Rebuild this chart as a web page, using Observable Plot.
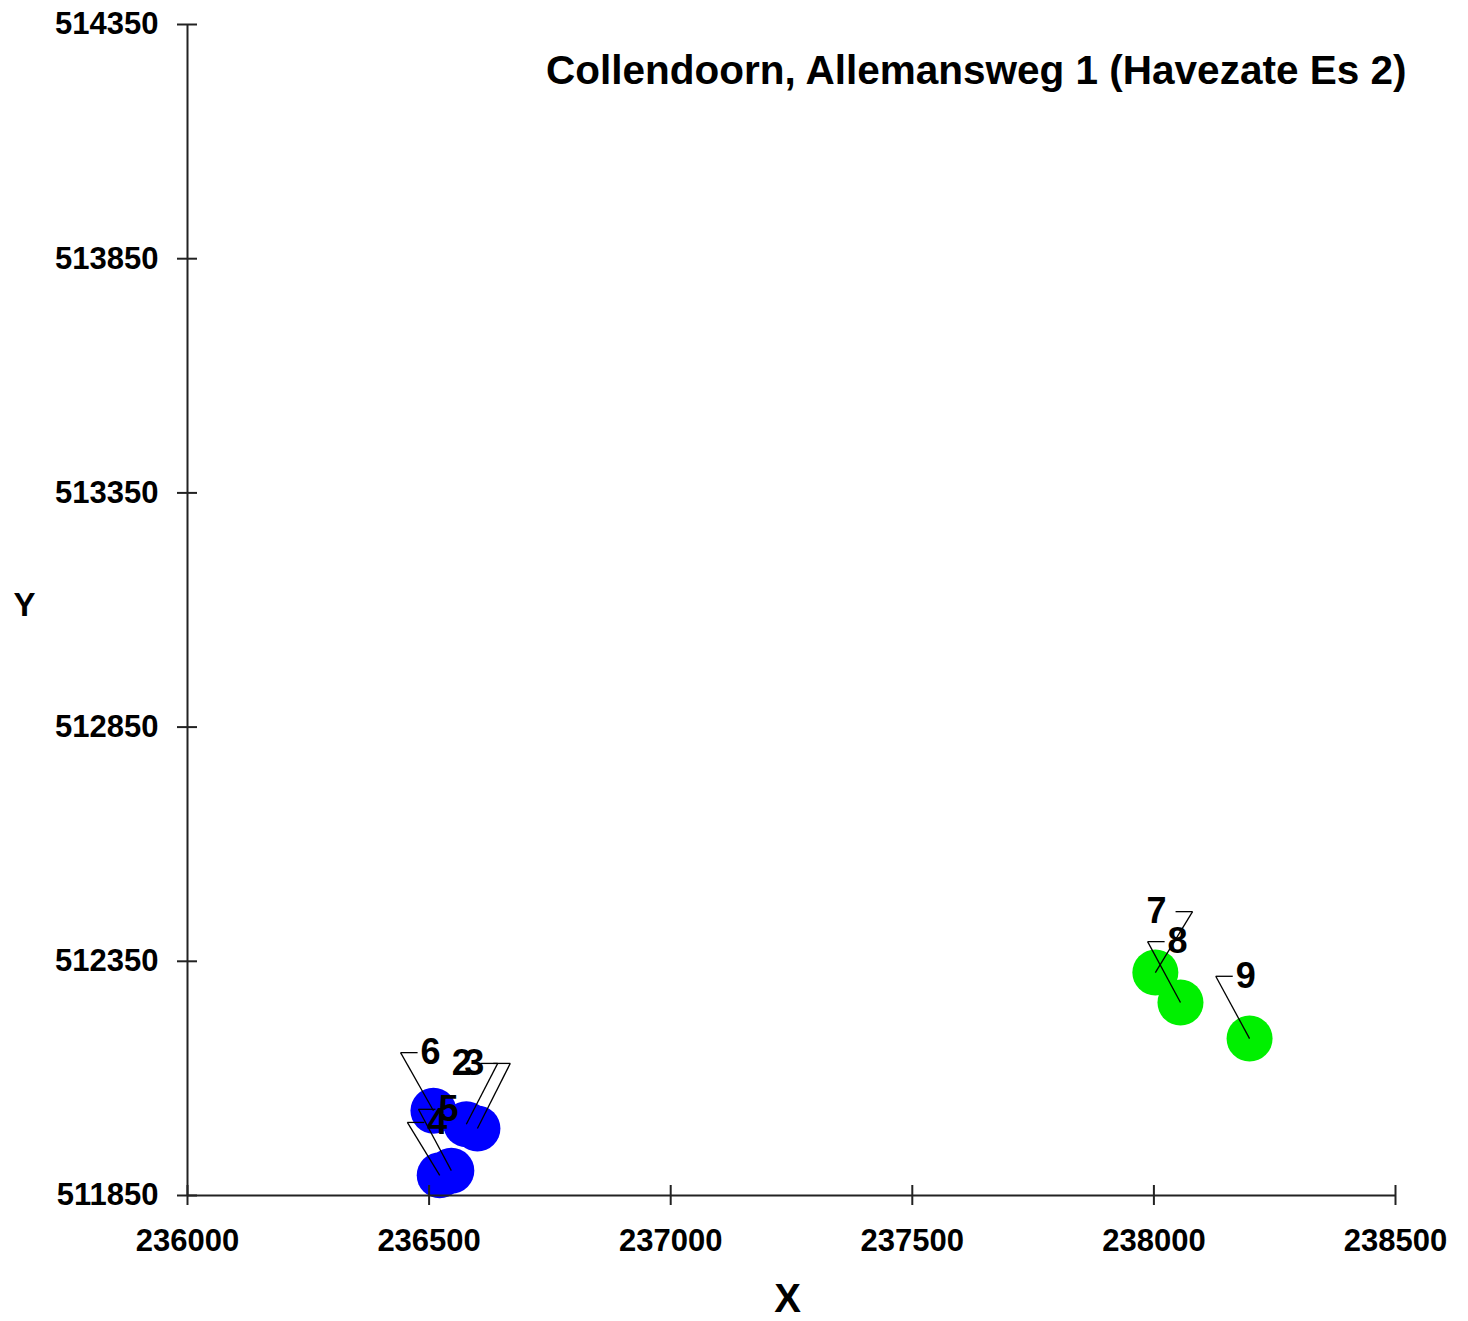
<!DOCTYPE html>
<html><head><meta charset="utf-8">
<script src="https://cdn.jsdelivr.net/npm/d3@7"></script>
<script src="https://cdn.jsdelivr.net/npm/@observablehq/plot@0.6"></script>
<style>body{margin:0;background:#fff;} svg{display:block;}</style>
</head><body><div id="chart"></div>
<script>
const title = "Collendoorn, Allemansweg 1 (Havezate Es 2)";
const xTicks = [236000, 236500, 237000, 237500, 238000, 238500];
const yTicks = [511850, 512350, 512850, 513350, 513850, 514350];
const pointIds = ["2", "3", "4", "5", "6", "7", "8", "9"];
const pointGroup = ["west", "west", "west", "west", "west", "east", "east", "east"];
const pointX = [236577, 236600, 236522, 236546, 236509, 238003, 238055, 238198];
const pointY = [512002, 511993, 511893, 511903, 512031, 512326, 512262, 512185];
const labelX = [236642, 236668, 236455, 236478, 236441, 238080, 237987, 238128];
const labelY = [512132, 512132, 512006, 512034, 512155, 512456, 512392, 512318];
const labelSide = [-1, -1, 1, 1, 1, -1, 1, 1];

const points = pointIds.map((id, i) => ({
  id, group: pointGroup[i], x: pointX[i], y: pointY[i],
  lx: labelX[i], ly: labelY[i], side: labelSide[i]
}));

const W = 1468, H = 1321, ml = 187, mr = 73, mt = 24, mb = 126;
const xDom = [236000, 238500], yDom = [511850, 514350];
const pxPerUnit = (W - ml - mr) / (xDom[1] - xDom[0]);
const barLen = 17 / pxPerUnit;
const font = "'Liberation Sans', Arial, sans-serif";
const ax = "#222";

const plot = Plot.plot({
  width: W, height: H,
  marginLeft: ml, marginRight: mr, marginTop: mt, marginBottom: mb,
  style: {fontFamily: font, fontWeight: "bold", fontSize: "31px", color: "#000", background: "#fff"},
  x: {domain: xDom},
  y: {domain: yDom},
  color: {type: "categorical", domain: ["west", "east"], range: ["#0000ff", "#00f000"]},
  marks: [
    Plot.dot(points, {x: "x", y: "y", r: 23, fill: "group", stroke: null}),
    Plot.ruleY([yDom[0]], {stroke: ax, strokeWidth: 2}),
    Plot.ruleX([xDom[0]], {stroke: ax, strokeWidth: 2}),
    Plot.axisX(xTicks, {tickSize: 10, tickPadding: 23, tickFormat: "d", stroke: ax, strokeWidth: 2,
      fill: "#000", fontSize: 31, fontWeight: "bold", label: null}),
    Plot.axisX(xTicks, {tickSize: 10, dy: -10, tickFormat: () => "", stroke: ax, strokeWidth: 2, label: null}),
    Plot.axisY(yTicks, {tickSize: 10, tickPadding: 19, tickFormat: "d", stroke: ax, strokeWidth: 2,
      fill: "#000", fontSize: 31, fontWeight: "bold", label: null}),
    Plot.axisY(yTicks, {tickSize: 10, dx: 10, tickFormat: () => "", stroke: ax, strokeWidth: 2, label: null}),
    Plot.link(points, {x1: "x", y1: "y", x2: "lx", y2: "ly", stroke: "#000", strokeWidth: 1.3}),
    Plot.link(points, {x1: "lx", y1: "ly", x2: d => d.lx + d.side * barLen, y2: "ly", stroke: "#000", strokeWidth: 1.3}),
    Plot.text(points, {filter: d => d.side > 0, x: "lx", y: "ly", text: "id", dx: 20, textAnchor: "start",
      lineAnchor: "middle", fontSize: 36, fontWeight: "bold", fill: "#000"}),
    Plot.text(points, {filter: d => d.side < 0, x: "lx", y: "ly", text: "id", dx: -26, textAnchor: "end",
      lineAnchor: "middle", fontSize: 36, fontWeight: "bold", fill: "#000"}),
    Plot.text([title], {frameAnchor: "top-right", text: d => d, textAnchor: "end", lineAnchor: "top",
      dx: 11, dy: 31, fontSize: 40.5, fontWeight: "bold", fill: "#000"}),
    Plot.text(["X"], {frameAnchor: "bottom", text: d => d, textAnchor: "middle", lineAnchor: "top",
      dx: -4, dy: 88, fontSize: 40, fontWeight: "bold", fill: "#000"}),
    Plot.text(["Y"], {frameAnchor: "left", text: d => d, textAnchor: "middle", lineAnchor: "middle",
      dx: -163, dy: -5, fontSize: 33, fontWeight: "bold", fill: "#000"})
  ]
});
document.getElementById("chart").appendChild(plot);
</script>
</body></html>
